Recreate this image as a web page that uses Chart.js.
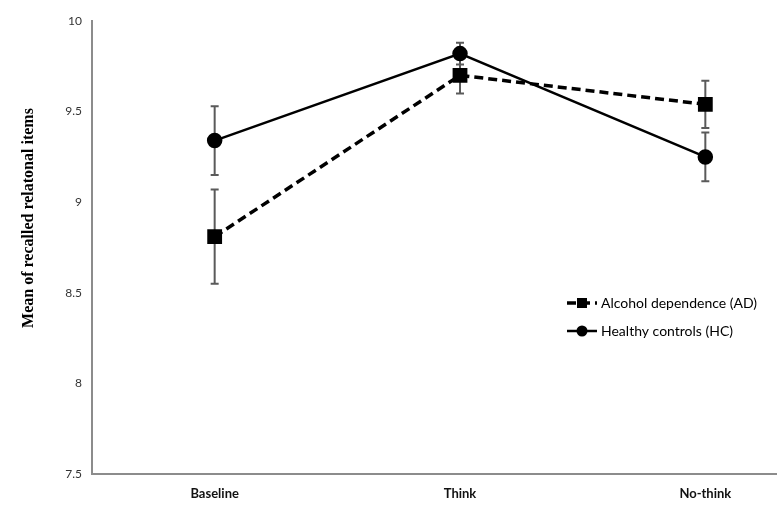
<!DOCTYPE html>
<html lang="en">
<head>
    <meta charset="UTF-8">
    <title>Recalled relational items</title>
    <script src="https://cdn.jsdelivr.net/npm/chart.js"></script>
    <style>
        body { margin: 0; background: #fff; overflow: hidden; }
        #wrap { position: relative; width: 840px; height: 519px; }
    </style>
</head>
<body>
    <div id="wrap"><canvas id="chart"></canvas></div>

    <script>
        // values
        const categories = ["Baseline", "Think", "No-think"];
        const adMean = [8.81, 9.70, 9.54];
        const adErr = [0.26, 0.10, 0.13];
        const hcMean = [9.34, 9.82, 9.25];
        const hcErr = [0.19, 0.06, 0.135];
        const yTicks = [7.5, 8, 8.5, 9, 9.5, 10];
        const yTitle = 'Mean of recalled relatonal items';

        // vertical error bars, drawn under the markers
        const errorBars = {
            id: 'errorBars',
            beforeDatasetsDraw(chart) {
                const ctx = chart.ctx;
                const x = chart.scales.x, y = chart.scales.y;
                ctx.save();
                ctx.strokeStyle = '#5a5a5a';
                ctx.lineWidth = 2;
                chart.data.datasets.forEach(ds => {
                    ds.data.forEach((v, i) => {
                        const px = x.getPixelForValue(i);
                        const top = y.getPixelForValue(v + ds.errors[i]);
                        const bot = y.getPixelForValue(v - ds.errors[i]);
                        ctx.beginPath();
                        ctx.moveTo(px, top); ctx.lineTo(px, bot);
                        ctx.moveTo(px - 4, top); ctx.lineTo(px + 4, top);
                        ctx.moveTo(px - 4, bot); ctx.lineTo(px + 4, bot);
                        ctx.stroke();
                    });
                });
                ctx.restore();
            }
        };

        // legend inside the plot + y title placed a bit above centre, like the original
        const extras = {
            id: 'extras',
            afterDraw(chart) {
                const ctx = chart.ctx;
                const x0 = 567, rows = [303, 331];
                ctx.save();
                chart.data.datasets.forEach((ds, k) => {
                    const yy = rows[k];
                    ctx.strokeStyle = '#000';
                    ctx.lineWidth = ds.borderWidth;
                    ctx.setLineDash(ds.borderDash || []);
                    ctx.beginPath();
                    ctx.moveTo(x0, yy); ctx.lineTo(x0 + 30, yy);
                    ctx.stroke();
                    ctx.setLineDash([]);
                    ctx.fillStyle = '#000';
                    if (ds.pointStyle === 'rect') {
                        ctx.fillRect(x0 + 10, yy - 5, 10, 10);
                    } else {
                        ctx.beginPath();
                        ctx.arc(x0 + 15, yy, 5.5, 0, Math.PI * 2);
                        ctx.fill();
                    }
                    ctx.font = '14px Lato';
                    ctx.textBaseline = 'middle';
                    ctx.textAlign = 'left';
                    ctx.fillText(ds.label, x0 + 34, yy);
                });

                ctx.translate(29, 218);
                ctx.rotate(-Math.PI / 2);
                ctx.font = 'bold 16px "Liberation Serif"';
                ctx.textAlign = 'center';
                ctx.textBaseline = 'middle';
                ctx.fillStyle = '#000';
                ctx.fillText(yTitle, 0, 0);
                ctx.restore();
            }
        };

        new Chart(document.getElementById('chart'), {
            type: 'line',
            data: {
                labels: categories,
                datasets: [{
                    label: 'Alcohol dependence (AD)',
                    data: adMean,
                    errors: adErr,
                    borderColor: '#000',
                    backgroundColor: '#000',
                    borderWidth: 3.5,
                    borderDash: [9, 5],
                    pointStyle: 'rect',
                    pointRadius: 8,
                    pointHoverRadius: 8,
                    tension: 0
                }, {
                    label: 'Healthy controls (HC)',
                    data: hcMean,
                    errors: hcErr,
                    borderColor: '#000',
                    backgroundColor: '#000',
                    borderWidth: 2.5,
                    pointStyle: 'circle',
                    pointRadius: 6.5,
                    pointHoverRadius: 6.5,
                    tension: 0
                }]
            },
            options: {
                responsive: true,
                maintainAspectRatio: false,
                animation: false,
                layout: { padding: { top: 21, right: 12, left: 0, bottom: 0 } },
                plugins: {
                    legend: { display: false },
                    tooltip: { enabled: false }
                },
                scales: {
                    x: {
                        offset: true,
                        grid: { display: false, drawTicks: false },
                        border: { color: '#8c8c8c', width: 2 },
                        ticks: {
                            color: '#111',
                            font: { family: 'Lato', size: 13, weight: 'bold' },
                            padding: 12
                        },
                        afterFit: s => { s.height = 45; }
                    },
                    y: {
                        min: 7.5,
                        max: 10,
                        afterBuildTicks: s => { s.ticks = yTicks.map(v => ({ value: v })); },
                        grid: { display: false, drawTicks: false },
                        border: { color: '#8c8c8c', width: 2 },
                        ticks: {
                            color: '#333',
                            font: { family: 'Lato', size: 12 },
                            padding: 10,
                            callback: v => String(v)
                        },
                        afterFit: s => { s.width = 92; }
                    }
                }
            },
            plugins: [errorBars, extras]
        });
    </script>
</body>
</html>
